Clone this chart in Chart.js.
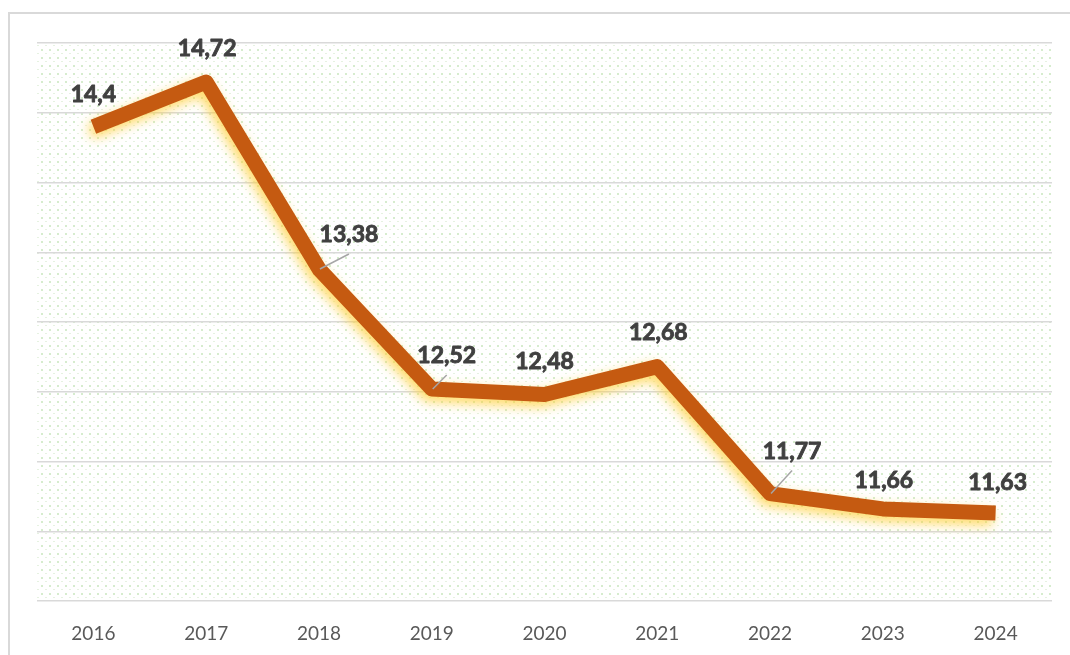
<!DOCTYPE html>
<html>
<head>
<meta charset="utf-8">
<script src="https://cdn.jsdelivr.net/npm/chart.js@4.4.1/dist/chart.umd.min.js"></script>
<style>
html,body{margin:0;padding:0;background:#fff;}
#wrap{position:relative;width:1070px;height:655px;}
</style>
</head>
<body>
<div id="wrap"><canvas id="c" width="1070" height="655"></canvas></div>
<script>
const years = ['2016','2017','2018','2019','2020','2021','2022','2023','2024'];
const values = [14.4, 14.72, 13.38, 12.52, 12.48, 12.68, 11.77, 11.66, 11.63];
const yMin = 11, yMax = 15, yStep = 0.5;

function makePattern(ctx){
  const t = document.createElement('canvas');
  t.width = 8; t.height = 8;
  const g = t.getContext('2d');
  g.fillStyle = '#ffffff'; g.fillRect(0,0,8,8);
  g.fillStyle = 'rgb(214,236,206)';
  g.fillRect(1,1,2,2);
  g.fillStyle = 'rgb(230,242,225)';
  g.fillRect(5,5,2,1);
  return ctx.createPattern(t,'repeat');
}

const bgPlugin = {
  id:'bg',
  beforeDraw(chart){
    const {ctx, chartArea:a} = chart;
    ctx.save();
    ctx.fillStyle = '#fff';
    ctx.fillRect(0,0,chart.width,chart.height);
    ctx.strokeStyle = '#d9d9d9';
    ctx.lineWidth = 2;
    ctx.strokeRect(9,13,1080,680);
    ctx.fillStyle = makePattern(ctx);
    ctx.fillRect(a.left, a.top, a.right-a.left, a.bottom-a.top);
    ctx.restore();
  }
};

const glowPlugin = {
  id:'glow',
  beforeDatasetsDraw(chart){
    const ctx = chart.ctx;
    ctx.save();
    ctx.shadowColor = 'rgba(255,205,50,0.75)';
    ctx.shadowBlur = 12;
    ctx.shadowOffsetX = -3;
    ctx.shadowOffsetY = 5;
  },
  afterDatasetsDraw(chart){
    chart.ctx.restore();
  }
};

const labelPlugin = {
  id:'vlabels',
  afterDatasetsDraw(chart, args, opts){
    const ctx = chart.ctx;
    const meta = chart.getDatasetMeta(0);
    ctx.save();
    meta.data.forEach((pt, i) => {
      const off = opts.offsets[i] || [0, -32];
      const lx = pt.x + off[0], ly = pt.y + off[1];
      if (opts.leaders.includes(i)) {
        ctx.strokeStyle = '#a6a6a6';
        ctx.lineWidth = 1.5;
        ctx.beginPath();
        ctx.moveTo(pt.x + 1, pt.y);
        ctx.lineTo(pt.x + off[0], ly + 19);
        ctx.stroke();
      }
      const txt = String(values[i]).replace('.', ',');
      ctx.fillStyle = '#404040';
      ctx.strokeStyle = '#404040';
      ctx.lineWidth = 0.9;
      ctx.lineJoin = 'round';
      ctx.font = 'bold 23px Lato';
      ctx.textAlign = 'center';
      ctx.textBaseline = 'middle';
      ctx.fillText(txt, lx, ly);
      ctx.strokeText(txt, lx, ly);
    });
    ctx.restore();
  }
};

new Chart(document.getElementById('c'), {
  type:'line',
  data:{
    labels: years,
    datasets:[{
      data: values,
      borderColor:'#C55A11',
      borderWidth:15,
      borderCapStyle:'butt',
      borderJoinStyle:'round',
      pointRadius:0,
      pointHoverRadius:0,
      tension:0,
      fill:false
    }]
  },
  options:{
    responsive:false,
    animation:false,
    events:[],
    layout:{padding:{left:37, right:18, top:43, bottom:0}},
    plugins:{
      legend:{display:false},
      tooltip:{enabled:false},
      vlabels:{
        offsets:{0:[0,-32],1:[1,-33],2:[30,-34],3:[15,-33],4:[0,-33],5:[1,-34],6:[22,-42],7:[1,-28],8:[2,-31]},
        leaders:[2,3,6]
      }
    },
    scales:{
      x:{
        offset:true,
        grid:{display:false, drawTicks:false},
        border:{display:false},
        ticks:{color:'#595959', font:{family:'Lato', size:19}, padding:21},
        afterFit(s){ s.height = 54; }
      },
      y:{
        min:yMin, max:yMax,
        ticks:{display:false, stepSize:yStep},
        grid:{color:'#d9d9d9', lineWidth:1.5, drawTicks:false},
        border:{display:false},
        afterFit(s){ s.width = 0; }
      }
    }
  },
  plugins:[bgPlugin, glowPlugin, labelPlugin]
});
</script>
</body>
</html>
